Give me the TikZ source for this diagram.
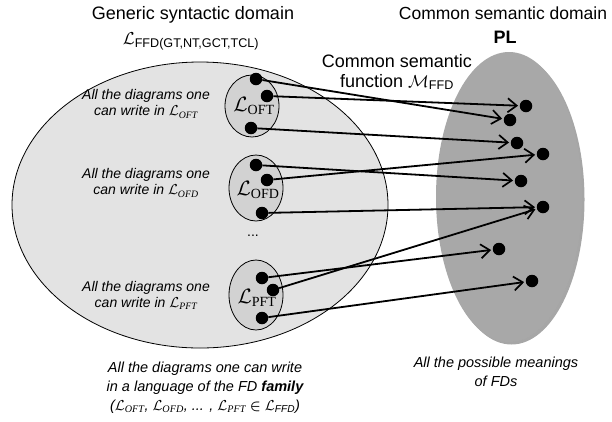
\documentclass[tikz,border=0pt]{standalone}
\usepackage{amsmath}
\usepackage{fontspec}
\setmainfont{Liberation Sans}
\newfontfamily\tms{Liberation Serif}
\usetikzlibrary{shapes.geometric,arrows.meta,shadows}
\definecolor{biggray}{HTML}{E3E3E3}
\definecolor{smallgray}{HTML}{D2D2D2}
\definecolor{plgray}{HTML}{A8A8A8}
\begin{document}
\begin{tikzpicture}[x=1pt,y=-1pt,
  dot/.style={circle,fill=black,inner sep=0pt,minimum size=12.5pt},
  conn/.style={line width=1.8pt,-{Straight Barb[length=9pt,width=14pt,line width=1.7pt]},shorten >=1.5pt},
  subdom/.style={ellipse,draw=black,line width=0.8pt,fill=smallgray,minimum width=54pt,inner sep=0pt},
  ital/.style={font=\fontsize{14}{16}\selectfont\itshape,align=center},
  ttl/.style={font=\fontsize{18}{20}\selectfont,align=center,inner sep=0pt},
  lname/.style={font=\fontsize{20}{22}\selectfont,inner sep=0pt}]
\useasboundingbox (0,0) rectangle (612,421);
% domains
\node[ellipse,draw=black,line width=0.8pt,fill=biggray,minimum width=376pt,minimum height=286pt,inner sep=0pt] (gen) at (200,205) {};
\node[ellipse,fill=plgray,minimum width=146pt,minimum height=290pt,inner sep=0pt,
  drop shadow={shadow xshift=2.5pt,shadow yshift=-2.5pt,fill=black,opacity=0.35}] (pl) at (509,197) {};
\node[subdom,minimum height=62pt] (oft) at (252,106) {};
\node[subdom,minimum height=66pt] (ofd) at (256,188) {};
\node[subdom,minimum height=70pt] (pft) at (256,295) {};
% labels inside sub-domains
\node[lname] (loft) at (254,106) {$\mathcal{L}_{\text{\tms OFT}}$};
\node[lname] (lofd) at (258,190) {$\mathcal{L}_{\text{\tms OFD}}$};
\node[lname] (lpft) at (257,298) {$\mathcal{L}_{\text{\tms PFT}}$};
\node[font=\fontsize{14}{16}\selectfont] (dots) at (253,236) {...};
% titles
\node[ttl] (t1) at (193,15) {Generic syntactic domain};
\node[ttl] (t2) at (191,41) {$\mathcal{L}_{\text{FFD(GT,NT,GCT,TCL)}}$};
\node[ttl,font=\fontsize{17.5}{20}\selectfont] (t3) at (503,13) {Common semantic domain};
\node[ttl,font=\fontsize{18}{20}\selectfont\bfseries] (t4) at (505,37) {PL};
\node[ttl] (t5) at (397,72) {Common semantic\\function $\mathcal{M}_{\text{FFD}}$};
% italic descriptions
\node[ital] (d1) at (146,104) {All the diagrams one\\can write in $\mathcal{L}_{\text{\tms\itshape OFT}}$};
\node[ital] (d2) at (146,183) {All the diagrams one\\can write in $\mathcal{L}_{\text{\tms\itshape OFD}}$};
\node[ital] (d3) at (146,295) {All the diagrams one\\can write in $\mathcal{L}_{\text{\tms\itshape PFT}}$};
\node[ital,font=\fontsize{14.5}{19}\selectfont\itshape] (d4) at (205,388) {All the diagrams one can write\\in a language of the FD \textbf{family}\\($\mathcal{L}_{\text{\tms OFT}}$, $\mathcal{L}_{\text{\tms OFD}}$, ... , $\mathcal{L}_{\text{\tms PFT}}\boldsymbol{\in}\mathcal{L}_{\text{FFD}}$)};
\node[ital,font=\fontsize{14.5}{19}\selectfont\itshape] (d5) at (496,372) {All the possible meanings\\of FDs};
% source dots
\node[dot] (a1) at (256,79) {};
\node[dot] (a2) at (267,96) {};
\node[dot] (a3) at (251,128) {};
\node[dot] (b1) at (256,165) {};
\node[dot] (b2) at (267,180) {};
\node[dot] (b3) at (262,213) {};
\node[dot] (c1) at (262,278) {};
\node[dot] (c2) at (273,290) {};
\node[dot] (c3) at (262,318) {};
% target dots
\node[dot] (m1) at (526,106) {};
\node[dot] (m2) at (510,120) {};
\node[dot] (m3) at (517,143) {};
\node[dot] (m4) at (543,154) {};
\node[dot] (m5) at (521,181) {};
\node[dot] (m6) at (543,207) {};
\node[dot] (m7) at (499,249) {};
\node[dot] (m8) at (532,281) {};
% mappings
\draw[conn] (a1) -- (m2);
\draw[conn] (a2) -- (m1);
\draw[conn] (a3) -- (m3);
\draw[conn] (b1) -- (m5);
\draw[conn] (b2) -- (m4);
\draw[conn] (b3) -- (m6);
\draw[conn] (c1) -- (m7);
\draw[conn] (c2) -- (m6);
\draw[conn] (c3) -- (m8);
\end{tikzpicture}
\end{document}
